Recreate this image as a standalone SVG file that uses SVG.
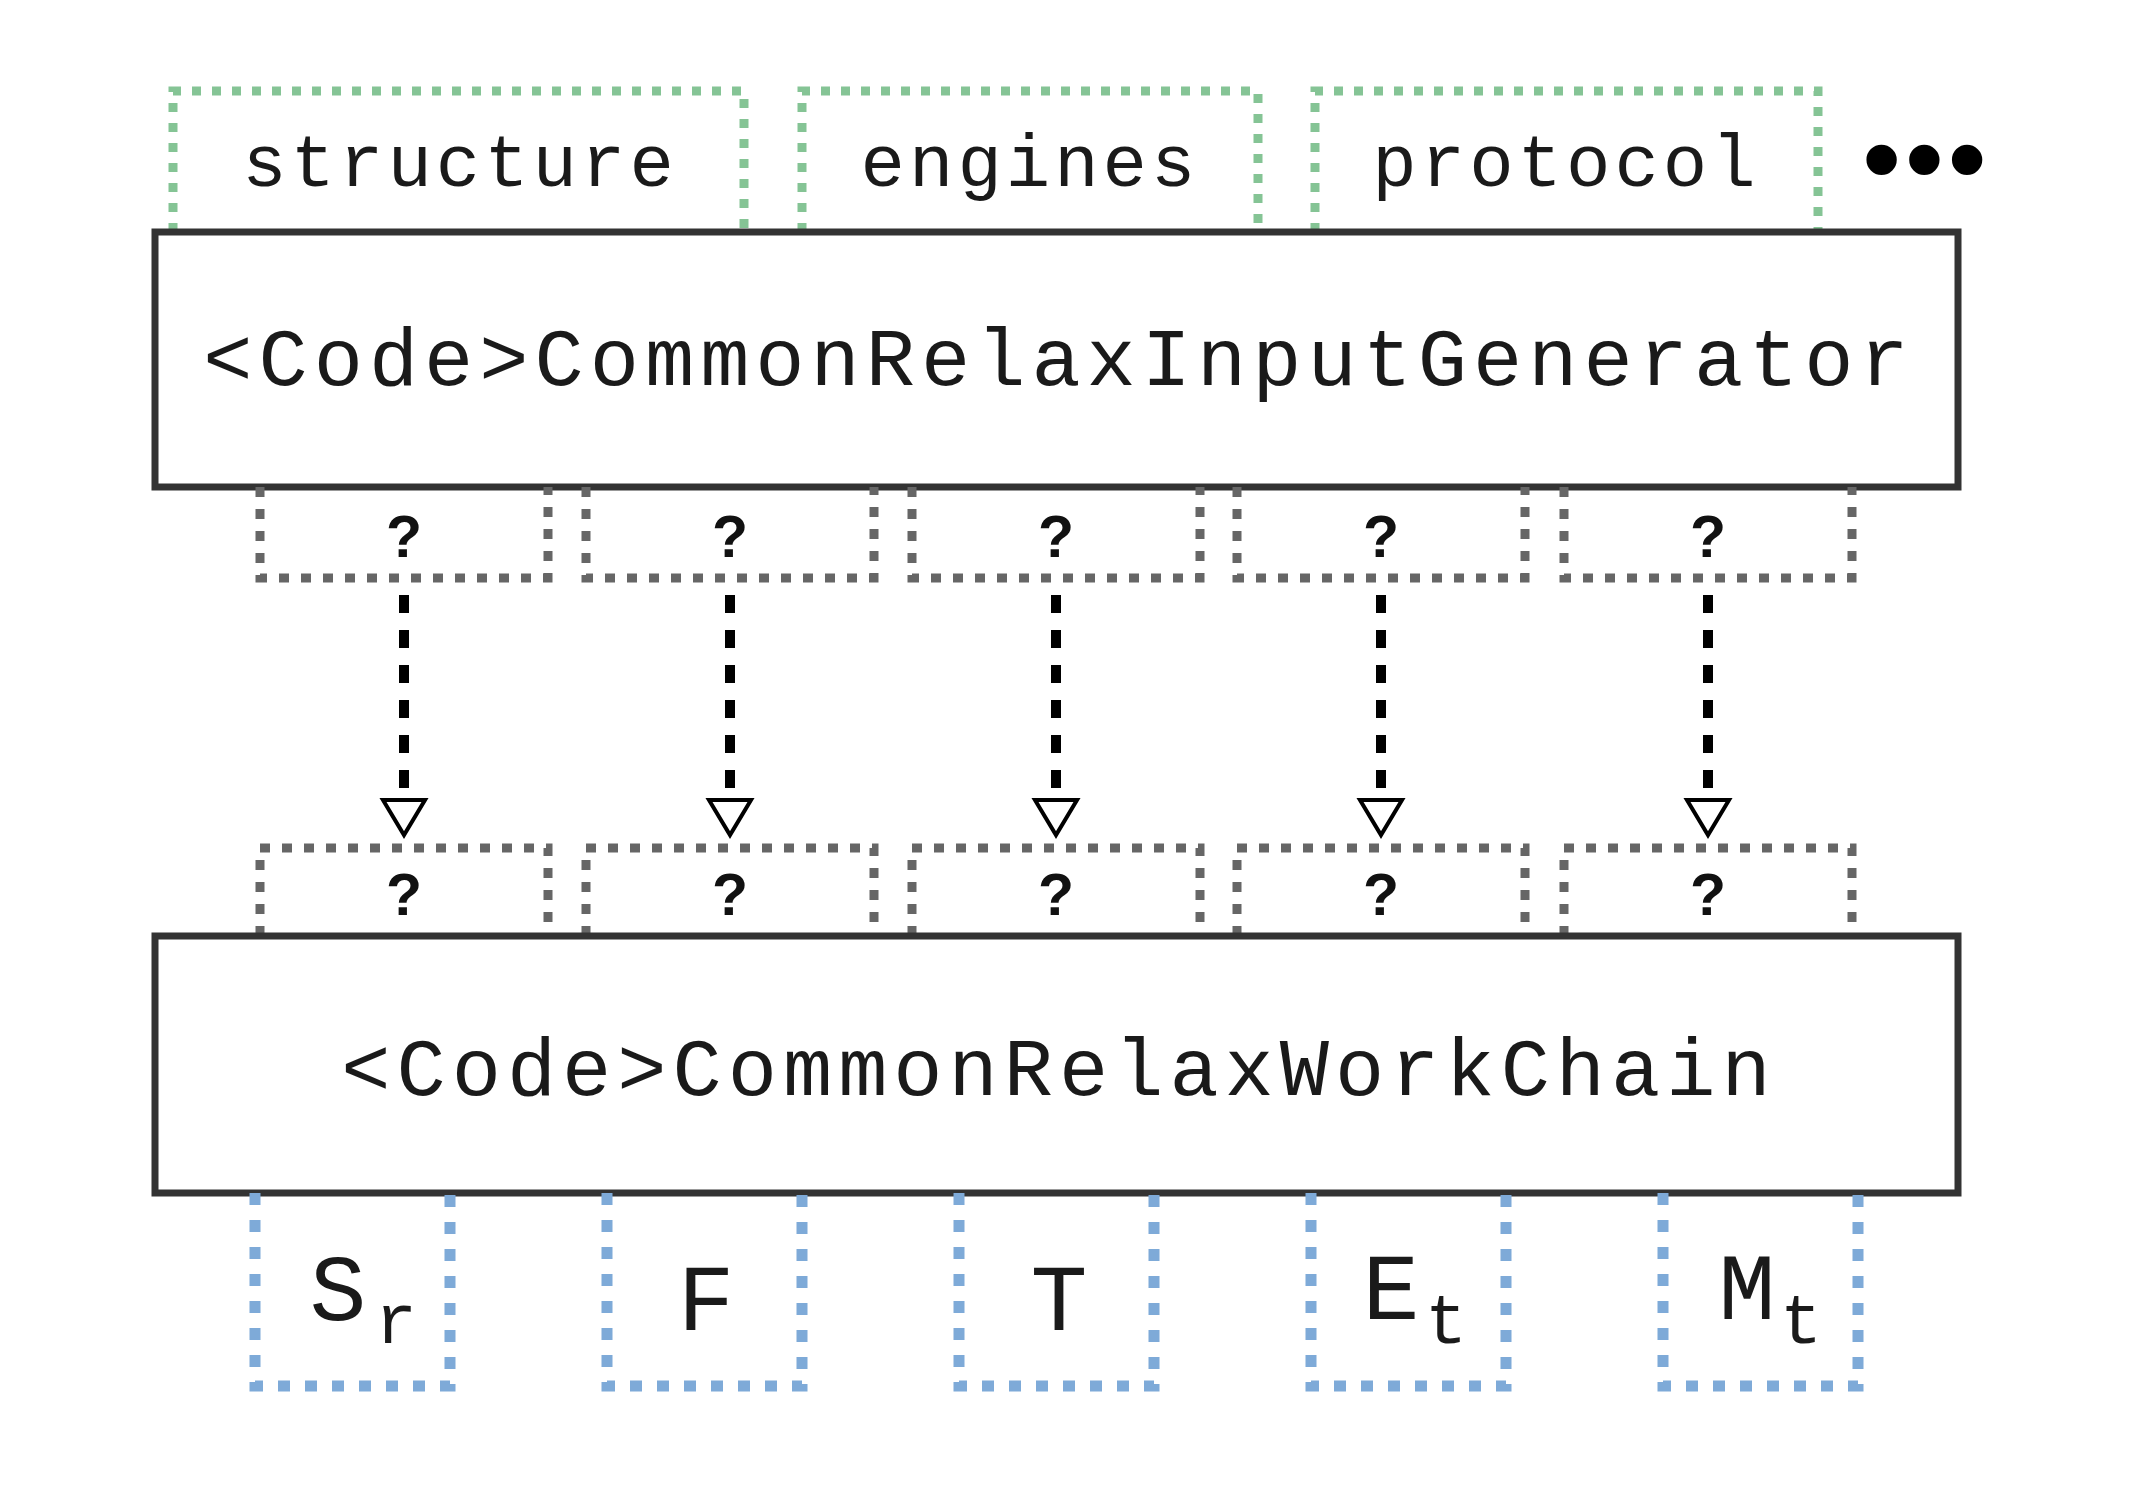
<svg xmlns="http://www.w3.org/2000/svg" width="2132" height="1500" viewBox="0 0 2132 1500">
<defs>
<style>
.main{fill:#fff;stroke:#333;stroke-width:7}
.mono{font-family:"Courier New","Nimbus Mono PS","FreeMono","Liberation Mono",monospace;fill:#1a1a1a}
.green{fill:none;stroke:#85c495;stroke-width:9;stroke-dasharray:9 11}
.gray{fill:none;stroke:#666;stroke-width:9;stroke-dasharray:10 12}
.blue{fill:none;stroke:#7eaad8;stroke-width:11;stroke-dasharray:12 15}
.q{font-family:"Liberation Sans",Arial,sans-serif;font-weight:bold;font-size:59px;fill:#111;text-anchor:middle}
.arrow{fill:none;stroke:#000;stroke-width:10;stroke-dasharray:18 17}
.head{fill:#fff;stroke:#000;stroke-width:4;stroke-linejoin:miter}
.lbl{font-size:74px;letter-spacing:4px;text-anchor:middle}
.big{font-size:82px;letter-spacing:6px;text-anchor:middle}
.out{font-size:95px;text-anchor:middle}
.sub{font-size:70px}
</style>
</defs>
<rect width="2132" height="1500" fill="#fff"/>

<g id="input-structure">
<path class="green" d="M173,232 V91 H744 V232"/>
<text class="mono lbl" x="460" y="186">structure</text>
</g>
<g id="input-engines">
<path class="green" d="M802,232 V91 H1258 V232"/>
<text class="mono lbl" x="1030" y="186">engines</text>
</g>
<g id="input-protocol">
<path class="green" d="M1315,232 V91 H1818 V232"/>
<text class="mono lbl" x="1566" y="186">protocol</text>
</g>
<g id="more">
<text x="1862" y="197" font-family="Liberation Sans,Arial,sans-serif" font-size="112" letter-spacing="3.5" fill="#000">•••</text>
</g>

<g id="generator">
<rect class="main" x="155" y="232" width="1803" height="255"/>
<text class="mono big" x="1059" y="385">&lt;Code&gt;CommonRelaxInputGenerator</text>
</g>

<g id="gen-out-1"><path class="gray" d="M260,487 V578 H548 V487"/><text class="q" x="404" y="557">?</text></g>
<g id="gen-out-2"><path class="gray" d="M586,487 V578 H874 V487"/><text class="q" x="730" y="557">?</text></g>
<g id="gen-out-3"><path class="gray" d="M912,487 V578 H1200 V487"/><text class="q" x="1056" y="557">?</text></g>
<g id="gen-out-4"><path class="gray" d="M1237,487 V578 H1525 V487"/><text class="q" x="1381" y="557">?</text></g>
<g id="gen-out-5"><path class="gray" d="M1564,487 V578 H1852 V487"/><text class="q" x="1708" y="557">?</text></g>

<g id="connectors">
<line class="arrow" x1="404" y1="595" x2="404" y2="799"/>
<polygon class="head" points="383,800 425,800 404,835"/>
<line class="arrow" x1="730" y1="595" x2="730" y2="799"/>
<polygon class="head" points="709,800 751,800 730,835"/>
<line class="arrow" x1="1056" y1="595" x2="1056" y2="799"/>
<polygon class="head" points="1035,800 1077,800 1056,835"/>
<line class="arrow" x1="1381" y1="595" x2="1381" y2="799"/>
<polygon class="head" points="1360,800 1402,800 1381,835"/>
<line class="arrow" x1="1708" y1="595" x2="1708" y2="799"/>
<polygon class="head" points="1687,800 1729,800 1708,835"/>
</g>

<g id="wc-in-1"><path class="gray" d="M260,936 V848 H548 V936"/><text class="q" x="404" y="915">?</text></g>
<g id="wc-in-2"><path class="gray" d="M586,936 V848 H874 V936"/><text class="q" x="730" y="915">?</text></g>
<g id="wc-in-3"><path class="gray" d="M912,936 V848 H1200 V936"/><text class="q" x="1056" y="915">?</text></g>
<g id="wc-in-4"><path class="gray" d="M1237,936 V848 H1525 V936"/><text class="q" x="1381" y="915">?</text></g>
<g id="wc-in-5"><path class="gray" d="M1564,936 V848 H1852 V936"/><text class="q" x="1708" y="915">?</text></g>

<g id="workchain">
<rect class="main" x="155" y="936" width="1803" height="257"/>
<text class="mono big" x="1059" y="1095">&lt;Code&gt;CommonRelaxWorkChain</text>
</g>

<g id="out-Sr">
<path class="blue" d="M255,1193 V1386 H450 V1193"/>
<text class="mono out"><tspan x="338" y="1320">S</tspan><tspan class="sub" x="396" y="1343">r</tspan></text>
</g>
<g id="out-F">
<path class="blue" d="M607,1193 V1386 H802 V1193"/>
<text class="mono out" x="706" y="1330">F</text>
</g>
<g id="out-T">
<path class="blue" d="M959,1193 V1386 H1154 V1193"/>
<text class="mono out" x="1059" y="1330">T</text>
</g>
<g id="out-Et">
<path class="blue" d="M1311,1193 V1386 H1506 V1193"/>
<text class="mono out"><tspan x="1391" y="1319">E</tspan><tspan class="sub" x="1446" y="1343">t</tspan></text>
</g>
<g id="out-Mt">
<path class="blue" d="M1663,1193 V1386 H1858 V1193"/>
<text class="mono out"><tspan x="1747" y="1319">M</tspan><tspan class="sub" x="1801" y="1343">t</tspan></text>
</g>
</svg>
